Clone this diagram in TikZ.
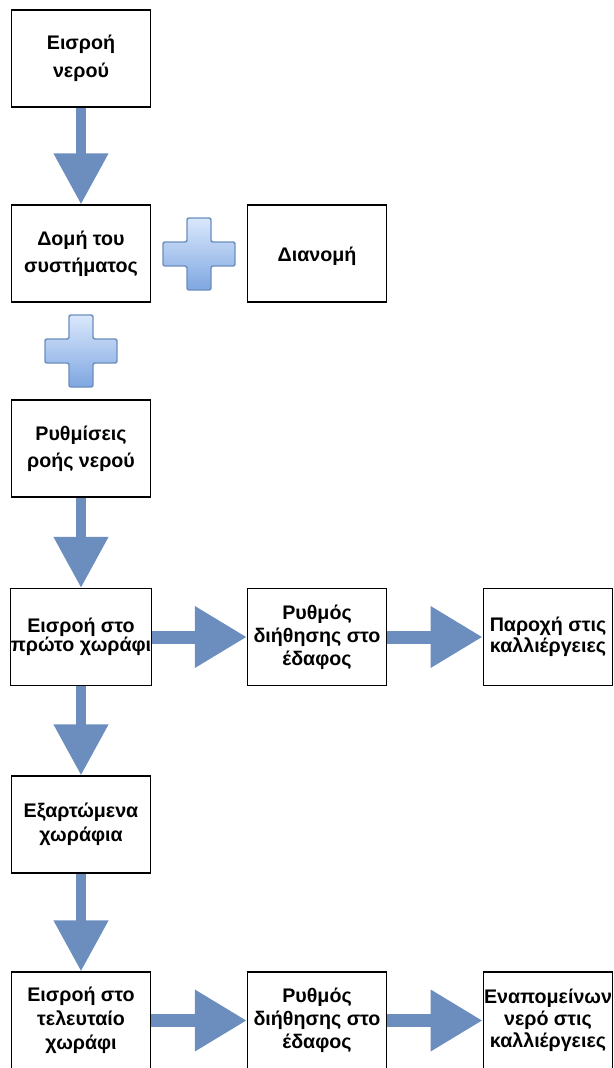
\documentclass[tikz,border=0pt]{standalone}
\usepackage{fontspec}
\setmainfont{Liberation Sans}
\usetikzlibrary{arrows.meta}
\definecolor{flowblue}{RGB}{108,142,191}
\definecolor{plustop}{RGB}{218,232,252}
\definecolor{plusbot}{RGB}{126,166,224}
\definecolor{plusedge}{RGB}{108,142,191}

% blue plus sign, 72 x 72 units, arms 24 wide; #1,#2 = top-left corner
\newcommand\drawplus[2]{%
  \shade[plus] (#1+24,#2) -- (#1+48,#2) -- (#1+48,#2+24) -- (#1+72,#2+24)
    -- (#1+72,#2+48) -- (#1+48,#2+48) -- (#1+48,#2+72) -- (#1+24,#2+72)
    -- (#1+24,#2+48) -- (#1,#2+48) -- (#1,#2+24) -- (#1+24,#2+24) -- cycle;}

\begin{document}
\begin{tikzpicture}[x=0.75pt,y=-0.75pt,
  stepbox/.style={draw=black, line width=0.9pt, fill=white,
    minimum width=104.25pt, minimum height=72.75pt, inner sep=0pt,
    align=center, font=\bfseries\fontsize{14.75pt}{17pt}\selectfont,
    execute at begin node={\rule{0pt}{15.5pt}}},
  lead/.style={font=\bfseries\fontsize{14.75pt}{#1}\selectfont},
  vflow/.style={draw=flowblue, line width=8pt,
    -{Triangle[length=38.25pt,width=39pt]}},
  hflow/.style={draw=flowblue, line width=9.75pt,
    -{Triangle[length=39pt,width=43.5pt]}},
  plus/.style={top color=plustop, bottom color=plusbot, draw=plusedge,
    line width=1.1pt, rounded corners=1.5pt}
]
\useasboundingbox (0,0) rectangle (614,1068);

% main column
\node[stepbox, lead=21pt]    (b1) at (81,58.5)   {Εισροή\\νερού};
\node[stepbox, lead=20.25pt] (b2) at (81,253.5)  {Δομή του\\συστήματος};
\node[stepbox, lead=20pt]    (b3) at (81,448.5)  {Ρυθμίσεις\\ροής νερού};
\node[stepbox, lead=14.25pt] (b4) at (81,637)    {Εισροή στο\\πρώτο χωράφι};
\node[stepbox, lead=18pt]    (b5) at (81,824.5)  {Εξαρτώμενα\\χωράφια};
\node[stepbox, lead=18pt]    (b6) at (81,1020.5) {Εισροή στο\\τελευταίο\\χωράφι};

% side boxes
\node[stepbox] (d1) at (317,253.5) {Διανομή};
\node[stepbox, lead=17.25pt] (r1) at (317,637)
  {Ρυθμός\\διήθησης στο\\έδαφος};
\node[stepbox, lead=15.75pt, minimum width=97.1pt] (p1) at (548,637)
  {Παροχή στις\\καλλιέργειες};
\node[stepbox, lead=17.25pt] (r2) at (317,1020.5)
  {Ρυθμός\\διήθησης στο\\έδαφος};
\node[stepbox, lead=16.5pt, minimum width=97.1pt] (p2) at (548,1020.5)
  {Εναπομείνων\\νερό στις\\καλλιέργειες};

% flow arrows
\draw[vflow] (b1) -- (b2);
\draw[vflow] (b3) -- (b4);
\draw[vflow] (b4) -- (b5);
\draw[vflow] (b5) -- (b6);
\draw[hflow] (b4) -- (r1);
\draw[hflow] (r1) -- (p1);
\draw[hflow] (b6) -- (r2);
\draw[hflow] (r2) -- (p2);

% plus signs
\drawplus{163}{218}
\drawplus{45}{315}
\end{tikzpicture}
\end{document}
